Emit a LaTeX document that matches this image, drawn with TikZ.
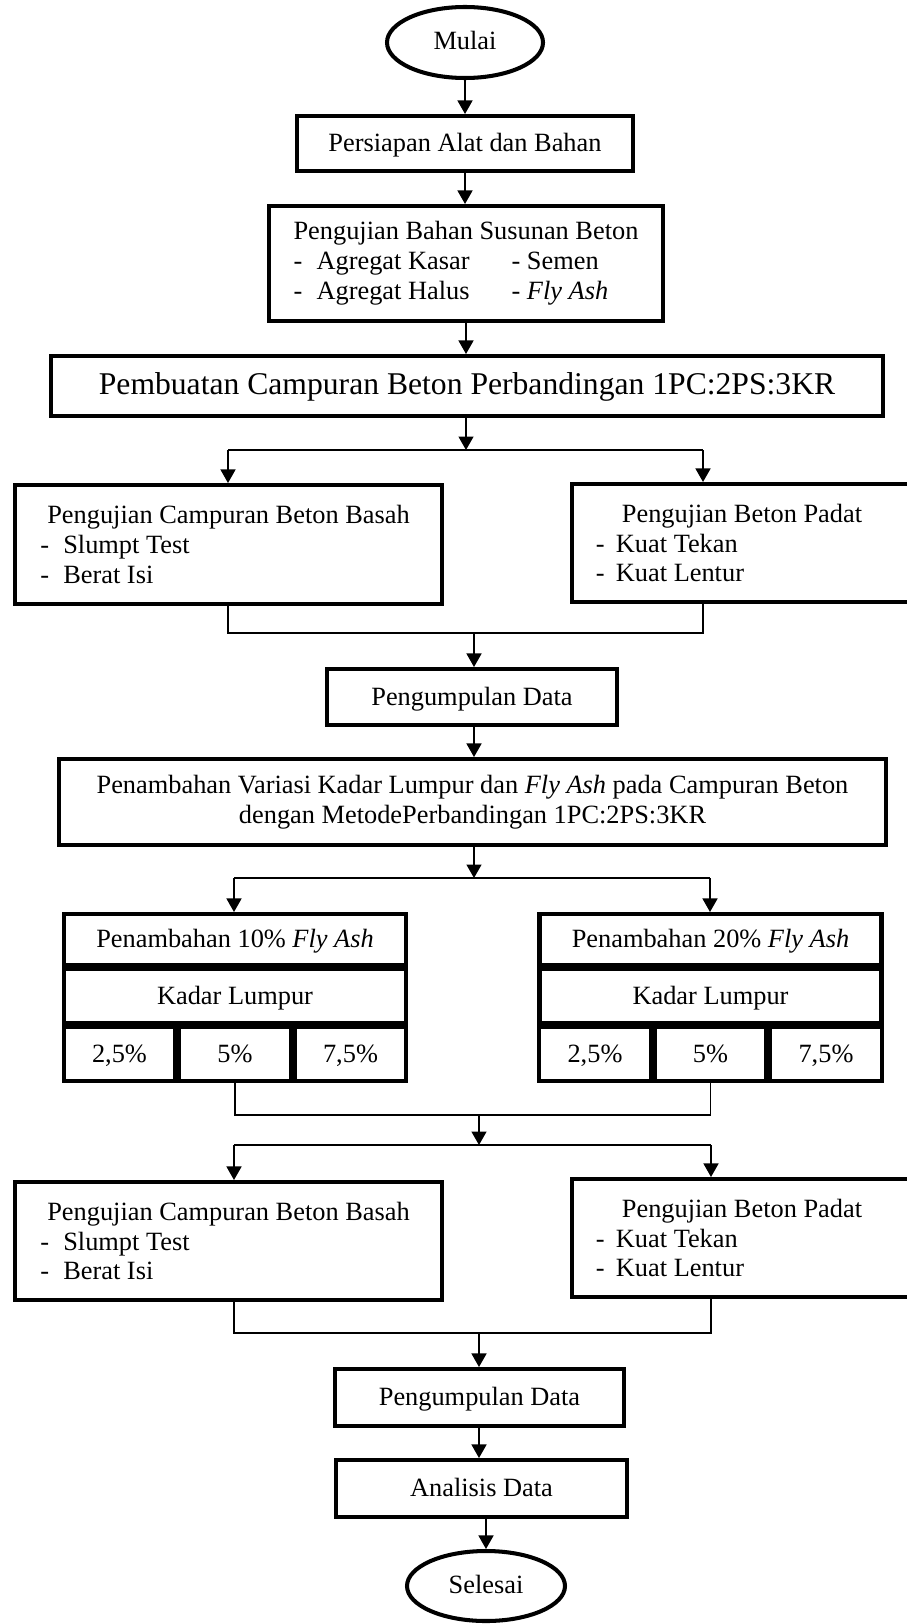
\documentclass[tikz,border=0pt]{standalone}
\usepackage{fontspec}
\setmainfont{Liberation Serif}
\usetikzlibrary{shapes.geometric,arrows.meta}

\tikzset{
	kotak/.style={draw, rectangle, line width=2.3pt, inner sep=0pt, align=center, font=\fontsize{15}{17}\selectfont},
	baris/.style={kotak, text height=1.15em, text depth=0.22em},
	oval/.style={draw, ellipse, line width=2.3pt, inner sep=0pt, text height=1.05em, text depth=0.22em, font=\fontsize{15}{17}\selectfont},
	panah/.style={-{Triangle[length=0.27cm,width=0.3cm]}, line width=0.8pt},
	garis/.style={line width=0.8pt}
}

\begin{document}
\begin{tikzpicture}
			\useasboundingbox (0,0) rectangle (18.14,-32.48);
			% alur atas
			\node [oval, minimum width=3.12cm, minimum height=1.42cm] (mulai) at (9.30,-0.85) {Mulai};
			\node [baris, minimum width=6.72cm, minimum height=1.10cm] (persiapan) at (9.30,-2.87) {Persiapan Alat dan Bahan};
			\node [kotak, align=left, minimum width=7.88cm, minimum height=2.30cm] (bahan) at (9.32,-5.27) {Pengujian Bahan Susunan Beton\\
				\makebox[0.46cm][l]{-}\makebox[3.9cm][l]{Agregat Kasar}- Semen\\
				\makebox[0.46cm][l]{-}\makebox[3.9cm][l]{Agregat Halus}- \textit{Fly Ash}};
			\node [baris, minimum width=16.64cm, minimum height=1.20cm, font=\fontsize{18}{21}\selectfont] (pembuatan) at (9.34,-7.72) {Pembuatan Campuran Beton Perbandingan 1PC:2PS:3KR};
			\draw [panah] (mulai.south) -- (mulai.south |- persiapan.north);
			\draw [panah] (persiapan.south) -- (persiapan.south |- bahan.north);
			\draw [panah] (bahan.south) -- (bahan.south |- pembuatan.north);

			% pengujian pertama
			\coordinate (s1) at (9.32,-9.00);
			\coordinate (s1l) at (4.56,-9.00);
			\coordinate (s1r) at (14.06,-9.00);
			\coordinate (m1) at (9.48,-12.66);
			\node [kotak, align=left, minimum width=8.54cm, minimum height=2.38cm] (basah1) at (4.57,-10.89) {Pengujian Campuran Beton Basah\\
				\hspace*{-0.14cm}\makebox[0.46cm][l]{-}Slumpt Test\\
				\hspace*{-0.14cm}\makebox[0.46cm][l]{-}Berat Isi};
			\node [kotak, align=left, minimum width=6.80cm, minimum height=2.36cm] (padat1) at (14.84,-10.86) {Pengujian Beton Padat\\
				\hspace*{-0.52cm}\makebox[0.40cm][l]{-}Kuat Tekan\\
				\hspace*{-0.52cm}\makebox[0.40cm][l]{-}Kuat Lentur};
			\node [baris, minimum width=5.80cm, minimum height=1.12cm] (data1) at (9.44,-13.94) {Pengumpulan Data};
			\node [kotak, minimum width=16.54cm, minimum height=1.72cm] (variasi) at (9.45,-16.04) {Penambahan Variasi Kadar Lumpur dan \textit{Fly Ash} pada Campuran Beton\\dengan MetodePerbandingan 1PC:2PS:3KR};
			\draw [panah] (pembuatan.south -| s1) -- (s1);
			\draw [garis] (s1l) -- (s1r);
			\draw [panah] (s1l) -- (s1l |- basah1.north);
			\draw [panah] (s1r) -- (s1r |- padat1.north);
			\draw [garis] (s1l |- basah1.south) |- (m1) -| (s1r |- padat1.south);
			\draw [panah] (m1) -- (m1 |- data1.north);
			\draw [panah] (data1.south -| m1) -- (m1 |- variasi.north);

			% tabel fly ash dan kadar lumpur
			\coordinate (s2) at (9.48,-17.56);
			\coordinate (s2l) at (4.68,-17.56);
			\coordinate (s2r) at (14.20,-17.56);
			\coordinate (m2) at (9.58,-22.30);
			\node [baris, minimum width=6.84cm, minimum height=1.02cm] (fa10) at (4.70,-18.79) {Penambahan 10\% \textit{Fly Ash}};
			\node [baris, minimum width=6.84cm, minimum height=1.08cm] (kl10) at (4.70,-19.92) {Kadar Lumpur};
			\node [baris, minimum width=2.23cm, minimum height=1.08cm] (c10a) at (2.39,-21.08) {2,5\%};
			\node [baris, minimum width=2.23cm, minimum height=1.08cm] (c10b) at (4.70,-21.08) {5\%};
			\node [baris, minimum width=2.23cm, minimum height=1.08cm] (c10c) at (7.01,-21.08) {7,5\%};
			\node [baris, minimum width=6.84cm, minimum height=1.02cm] (fa20) at (14.21,-18.79) {Penambahan 20\% \textit{Fly Ash}};
			\node [baris, minimum width=6.84cm, minimum height=1.08cm] (kl20) at (14.21,-19.92) {Kadar Lumpur};
			\node [baris, minimum width=2.23cm, minimum height=1.08cm] (c20a) at (11.90,-21.08) {2,5\%};
			\node [baris, minimum width=2.23cm, minimum height=1.08cm] (c20b) at (14.21,-21.08) {5\%};
			\node [baris, minimum width=2.23cm, minimum height=1.08cm] (c20c) at (16.52,-21.08) {7,5\%};
			\draw [panah] (variasi.south -| s2) -- (s2);
			\draw [garis] (s2l) -- (s2r);
			\draw [panah] (s2l) -- (s2l |- fa10.north);
			\draw [panah] (s2r) -- (s2r |- fa20.north);
			\draw [garis] (c10b.south) |- (m2) -| (c20b.south);

			% pengujian kedua
			\coordinate (s3) at (9.58,-22.90);
			\coordinate (s3l) at (4.68,-22.90);
			\coordinate (s3r) at (14.22,-22.90);
			\coordinate (m3) at (9.58,-26.66);
			\node [kotak, align=left, minimum width=8.54cm, minimum height=2.36cm] (basah2) at (4.57,-24.82) {Pengujian Campuran Beton Basah\\
				\hspace*{-0.14cm}\makebox[0.46cm][l]{-}Slumpt Test\\
				\hspace*{-0.14cm}\makebox[0.46cm][l]{-}Berat Isi};
			\node [kotak, align=left, minimum width=6.80cm, minimum height=2.36cm] (padat2) at (14.84,-24.76) {Pengujian Beton Padat\\
				\hspace*{-0.52cm}\makebox[0.40cm][l]{-}Kuat Tekan\\
				\hspace*{-0.52cm}\makebox[0.40cm][l]{-}Kuat Lentur};
			\draw [panah] (m2) -- (s3);
			\draw [garis] (s3l) -- (s3r);
			\draw [panah] (s3l) -- (s3l |- basah2.north);
			\draw [panah] (s3r) -- (s3r |- padat2.north);
			\draw [garis] (s3l |- basah2.south) |- (m3) -| (s3r |- padat2.south);

			% alur bawah
			\node [baris, minimum width=5.78cm, minimum height=1.14cm] (data2) at (9.59,-27.95) {Pengumpulan Data};
			\node [baris, minimum width=5.82cm, minimum height=1.14cm] (analisis) at (9.63,-29.77) {Analisis Data};
			\node [oval, minimum width=3.16cm, minimum height=1.40cm] (selesai) at (9.72,-31.72) {Selesai};
			\draw [panah] (m3) -- (m3 |- data2.north);
			\draw [panah] (data2.south -| m3) -- (m3 |- analisis.north);
			\draw [panah] (analisis.south -| selesai) -- (selesai.north);
		\end{tikzpicture}
\end{document}
